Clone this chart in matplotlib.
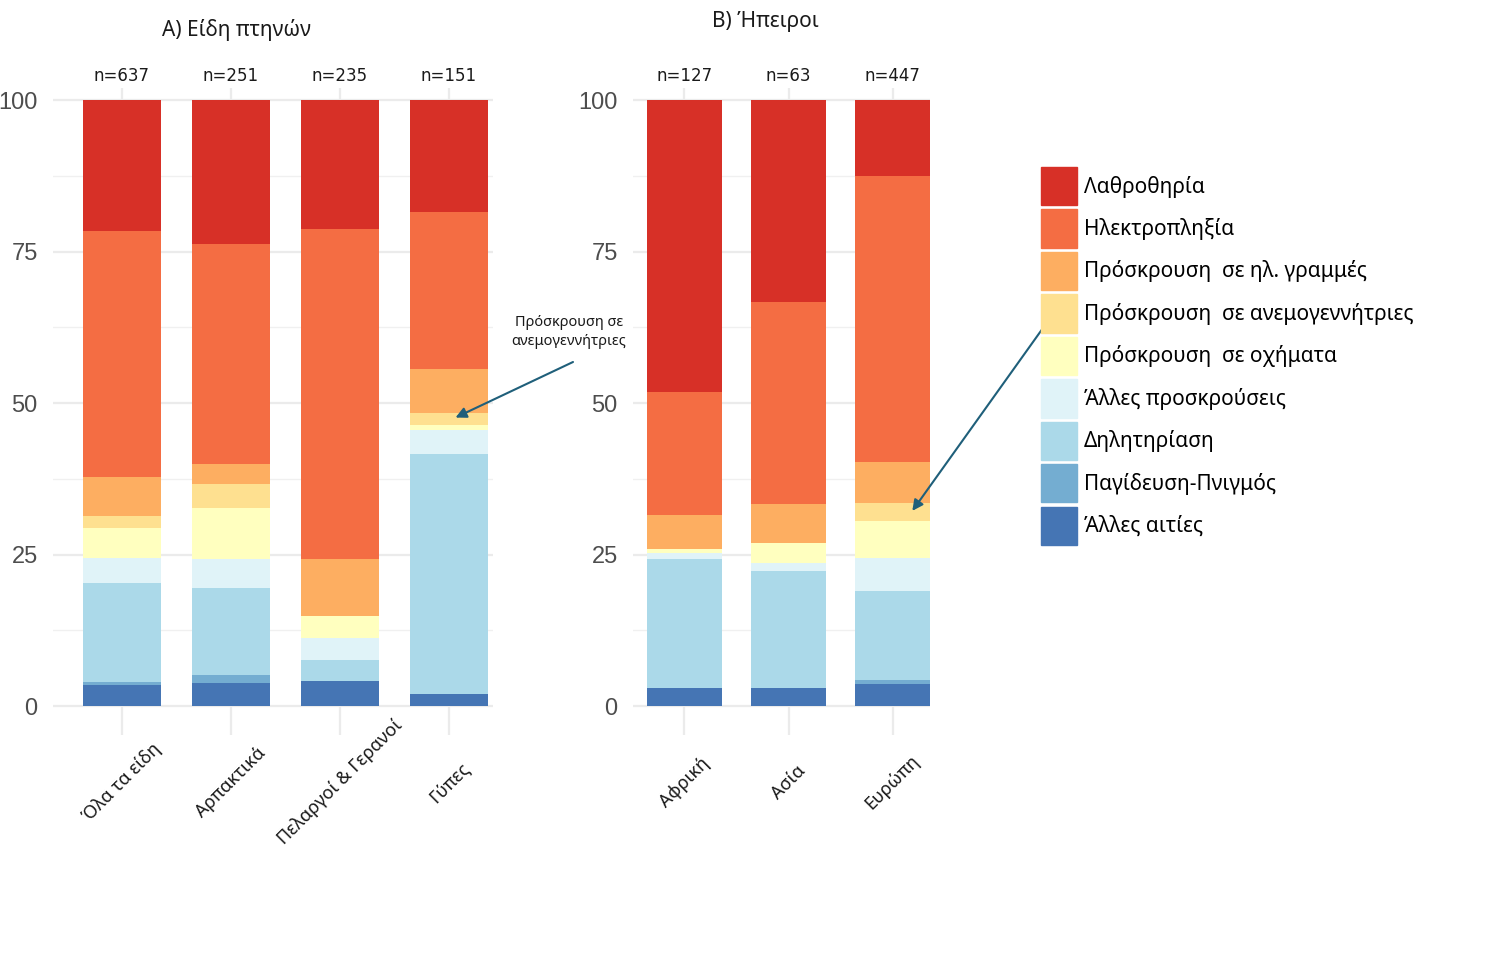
import numpy as np
import matplotlib.pyplot as plt
from matplotlib.ticker import MultipleLocator

plt.rcParams['font.family'] = ['Noto Sans', 'DejaVu Sans']

# Causes of death, legend order (top of stack first)
causes = ['Λαθροθηρία', 'Ηλεκτροπληξία', 'Πρόσκρουση  σε ηλ. γραμμές',
          'Πρόσκρουση  σε ανεμογεννήτριες', 'Πρόσκρουση  σε οχήματα',
          'Άλλες προσκρούσεις', 'Δηλητηρίαση', 'Παγίδευση-Πνιγμός', 'Άλλες αιτίες']
colors = ['#d73027', '#f46d43', '#fdae61', '#fee090', '#ffffbf',
          '#e0f3f8', '#abd9e9', '#74add1', '#4575b4']

# Panel A: bird groups (% of cases)
groups = ['Όλα τα είδη', 'Αρπακτικά', 'Πελαργοί & Γερανοί', 'Γύπες']
groups_n = [637, 251, 235, 151]
groups_pct = [
    [21.6, 23.8, 21.25, 18.5],   # Λαθροθηρία
    [40.6, 36.3, 54.55, 25.9],   # Ηλεκτροπληξία
    [6.4, 3.2, 9.4, 7.3],        # ηλ. γραμμές
    [2.0, 4.1, 0.0, 2.0],        # ανεμογεννήτριες
    [4.9, 8.4, 3.5, 0.7],        # οχήματα
    [4.2, 4.7, 3.7, 4.0],        # άλλες προσκρούσεις
    [16.3, 14.4, 3.4, 39.7],     # δηλητηρίαση
    [0.5, 1.3, 0.0, 0.0],        # παγίδευση
    [3.5, 3.8, 4.2, 1.9],        # άλλες αιτίες
]

# Panel B: continents (% of cases)
continents = ['Αφρική', 'Ασία', 'Ευρώπη']
continents_n = [127, 63, 447]
continents_pct = [
    [48.1, 33.3, 12.5],
    [20.4, 33.4, 47.2],
    [5.6, 6.4, 6.8],
    [0.0, 0.0, 2.9],
    [0.7, 3.3, 6.2],
    [0.9, 1.4, 5.5],
    [21.3, 19.2, 14.6],
    [0.0, 0.0, 0.6],
    [3.0, 3.0, 3.7],
]

W, H = 1511, 961
fig = plt.figure(figsize=(W / 100, H / 100), dpi=100)


def panel(rect, labels, n, pct, width, xlim):
    ax = fig.add_axes(rect)
    x = np.arange(len(labels))
    bottom = np.zeros(len(labels))
    # stack from the bottom (last cause) upwards
    for vals, col in zip(pct[::-1], colors[::-1]):
        ax.bar(x, vals, width=width, bottom=bottom, color=col, zorder=3)
        bottom += np.array(vals)
    for xi, ni in zip(x, n):
        ax.text(xi, 104, f'n={ni}', ha='center', va='center', fontsize=12,
                family='DejaVu Sans', color='#1a1a1a')
    ax.set_xlim(*xlim)
    ax.set_ylim(-4.8, 102)
    ax.set_xticks(x)
    ax.set_xticklabels(labels, rotation=45, ha='center', va='center',
                       fontsize=13, color='#1a1a1a')
    ax.tick_params(axis='x', length=0, pad=34)
    ax.yaxis.set_major_locator(MultipleLocator(25))
    ax.yaxis.set_minor_locator(MultipleLocator(12.5))
    ax.tick_params(axis='y', which='both', length=0, pad=11, labelsize=17,
                   labelcolor='#4d4d4d')
    for lab in ax.get_yticklabels():
        lab.set_family('Liberation Sans')
    ax.grid(True, which='major', color='#ebebeb', lw=1.6, zorder=0)
    ax.grid(True, which='minor', axis='y', color='#f0f0f0', lw=1.0, zorder=0)
    for s in ax.spines.values():
        s.set_visible(False)
    return ax


ax1 = panel([53 / W, 1 - 735.1 / H, 440 / W, 647.2 / H],
            groups, groups_n, groups_pct, 0.71, (-0.633, 3.404))
ax2 = panel([633 / W, 1 - 735.1 / H, 297 / W, 647.2 / H],
            continents, continents_n, continents_pct, 0.72, (-0.495, 2.36))

fig.text(236 / W, 1 - 30 / H, 'A) Είδη πτηνών', ha='center', va='center',
         fontsize=15, color='#1a1a1a')
fig.text(765 / W, 1 - 22 / H, 'B) Ήπειροι', ha='center', va='center',
         fontsize=15, color='#1a1a1a')

# legend
handles = [plt.Rectangle((0, 0), 1, 1, color=c) for c in colors]
fig.legend(handles, causes, loc='upper left',
           bbox_to_anchor=(1041 / W, 1 - 167 / H), frameon=False,
           fontsize=15, handlelength=1.75, handleheight=2.45,
           handletextpad=0.3, labelspacing=0.2, borderpad=0, borderaxespad=0)

# annotations
arrow_col = '#1f5f7a'
fig.text(569 / W, 1 - 332 / H, 'Πρόσκρουση σε\nανεμογεννήτριες', ha='center',
         va='center', fontsize=10.5, linespacing=1.3, color='#1a1a1a')
ax1.annotate('', xy=(3.06, 47.6), xytext=(573, H - 362),
             textcoords='figure pixels',
             arrowprops=dict(arrowstyle='-|>', color=arrow_col, lw=1.5,
                             mutation_scale=16, shrinkA=0, shrinkB=0))
ax2.annotate('', xy=(2.19, 32.2), xytext=(1053, H - 314),
             textcoords='figure pixels',
             arrowprops=dict(arrowstyle='-|>', color=arrow_col, lw=1.5,
                             mutation_scale=16, shrinkA=0, shrinkB=0))

fig.savefig('out.png', dpi=100)
